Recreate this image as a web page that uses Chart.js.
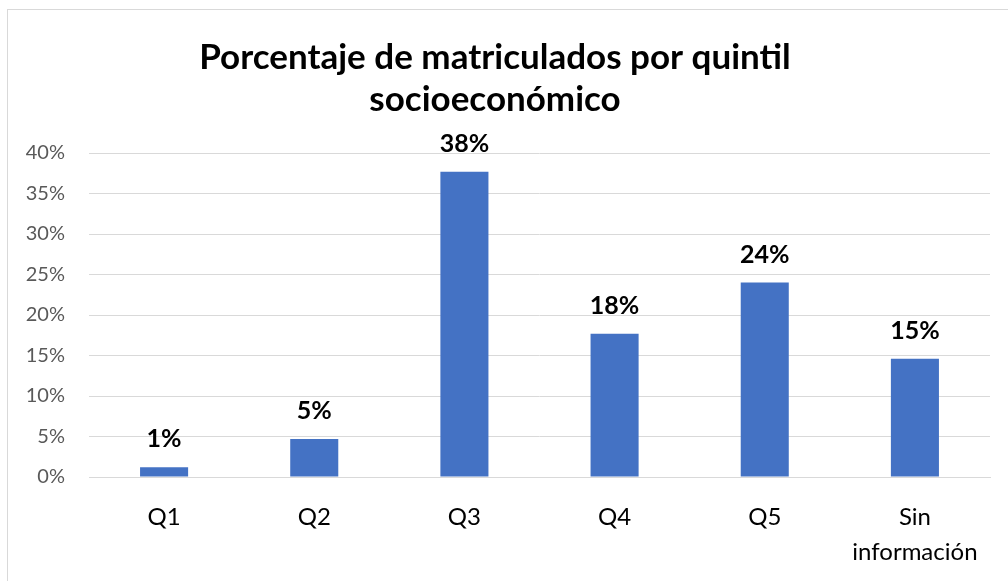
<!DOCTYPE html>
<html lang="es">
    <head>
        <meta charset="utf-8"/>
        <title>Porcentaje de matriculados por quintil</title>
        <script src="https://cdn.jsdelivr.net/npm/chart.js"></script>
        <style type="text/css">
            body { margin: 0; background: #fff; }
            .marco {
                position: absolute; left: 7px; top: 9px;
                width: 1010px; height: 580px;
                border: 1px solid #d9d9d9;
            }
            .caja { position: absolute; left: 0; top: 0; width: 1008px; height: 581px; }
        </style>
    </head>
    <body>
        <div class="marco"></div>
        <div class="caja">
            <canvas id="grafico"></canvas>
        </div>

        <script>
            // datos
            var categorias = ["Q1", "Q2", "Q3", "Q4", "Q5", ["Sin", "información"]];
            var porcentajes = [1.2, 4.7, 37.7, 17.7, 24.0, 14.6];
            var etiquetas = ["1%", "5%", "38%", "18%", "24%", "15%"];
            var ticksY = [0, 5, 10, 15, 20, 25, 30, 35, 40];

            var fuente = "Lato, 'Open Sans', sans-serif";

            // etiquetas encima de cada barra
            var etiquetasBarras = {
                id: 'etiquetasBarras',
                afterDatasetsDraw: function(chart) {
                    var ctx = chart.ctx;
                    var meta = chart.getDatasetMeta(0);
                    ctx.save();
                    ctx.font = "bold 25px " + fuente;
                    ctx.fillStyle = "#000";
                    ctx.textAlign = "center";
                    ctx.textBaseline = "middle";
                    meta.data.forEach(function(bar, i) {
                        ctx.fillText(etiquetas[i], bar.x, bar.y - 28);
                    });
                    ctx.restore();
                }
            };

            var grafico = new Chart(document.getElementById('grafico'), {
                type: 'bar',
                data: {
                    labels: categorias,
                    datasets: [{
                        data: porcentajes,
                        backgroundColor: '#4472C4',
                        barPercentage: 0.32,
                        categoryPercentage: 1
                    }]
                },
                options: {
                    responsive: true,
                    maintainAspectRatio: false,
                    animation: false,
                    layout: { padding: { top: 37, right: 18, left: 0, bottom: 0 } },
                    plugins: {
                        legend: { display: false },
                        tooltip: { enabled: false },
                        title: {
                            display: true,
                            text: ["Porcentaje de matriculados por quintil", "socioeconómico"],
                            color: '#000',
                            font: { family: fuente, size: 35, weight: 'bold', lineHeight: 1.2 },
                            padding: { top: 0, bottom: 32 }
                        }
                    },
                    scales: {
                        x: {
                            grid: { display: false },
                            border: { color: '#d9d9d9' },
                            ticks: {
                                color: '#000',
                                font: { family: fuente, size: 24, lineHeight: 1.46 },
                                padding: 15,
                                maxRotation: 0
                            },
                            afterFit: function(scale) { scale.height = 104; }
                        },
                        y: {
                            min: 0,
                            max: 40,
                            afterBuildTicks: function(scale) {
                                scale.ticks = ticksY.map(function(v) { return { value: v }; });
                            },
                            grid: { color: '#d9d9d9', drawTicks: false },
                            border: { display: false },
                            ticks: {
                                color: '#595959',
                                font: { family: fuente, size: 20 },
                                padding: 24,
                                callback: function(v) { return v + '%'; }
                            },
                            afterFit: function(scale) { scale.width = 89; }
                        }
                    }
                },
                plugins: [etiquetasBarras]
            });
        </script>
    </body>
</html>
